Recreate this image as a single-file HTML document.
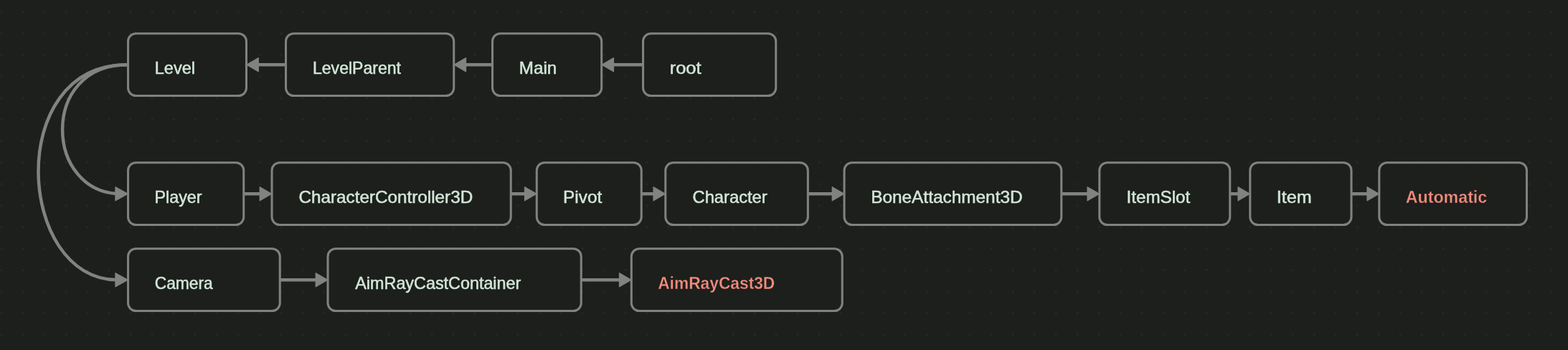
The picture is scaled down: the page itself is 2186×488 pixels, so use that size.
<!DOCTYPE html>
<html><head><meta charset="utf-8"><title>Canvas</title>
<style>
html,body{margin:0;padding:0;background:#1c1f1c;}
body{width:2186px;height:488px;overflow:hidden;}
svg{display:block;will-change:transform;}
text{font-family:"Liberation Sans",sans-serif;font-size:23.4px;fill:#d2e6d7;stroke:#d2e6d7;stroke-width:0.5px;stroke-linejoin:round;}
text.red{fill:#f28c7d;stroke:#1c1f1c;stroke-width:0.3px;font-size:23.5px;font-weight:bold;}
.box{fill:#1c1f1c;stroke:#808280;stroke-width:3.05;}
.edge{fill:none;stroke:#818380;stroke-width:4.5;}
.head{fill:#818380;stroke:#818380;stroke-width:1.4;stroke-linejoin:round;}
</style></head><body>
<svg width="2186" height="488" viewBox="0 0 2186 488">
<defs><pattern id="dots" x="-12.9" y="1.7" width="30" height="30" patternUnits="userSpaceOnUse"><circle cx="15" cy="15" r="1.3" fill="#292b29"/></pattern></defs>
<rect width="2186" height="488" fill="#1c1f1c"/>
<rect width="2186" height="488" fill="url(#dots)"/>
<g>
<path class="edge" d="M398.5 90.25H359"/><path class="head" d="M343.8 90.25L360.2 80.8V99.7Z"/>
<path class="edge" d="M686.5 90.25H648.25"/><path class="head" d="M633.05 90.25L649.45 80.8V99.7Z"/>
<path class="edge" d="M896.5 90.25H854.2"/><path class="head" d="M839.0 90.25L855.4000000000001 80.8V99.7Z"/>
<path class="edge" d="M339.75 270.25H363.5"/><path class="head" d="M378.7 270.25L362.3 260.8V279.7Z"/>
<path class="edge" d="M712.25 270.25H732.75"/><path class="head" d="M747.95 270.25L731.55 260.8V279.7Z"/>
<path class="edge" d="M894.25 270.25H912.25"/><path class="head" d="M927.45 270.25L911.05 260.8V279.7Z"/>
<path class="edge" d="M1126.35 270.25H1161.5"/><path class="head" d="M1176.7 270.25L1160.3 260.8V279.7Z"/>
<path class="edge" d="M1479.75 270.25H1517.25"/><path class="head" d="M1532.45 270.25L1516.05 260.8V279.7Z"/>
<path class="edge" d="M1714.75 270.25H1727.25"/><path class="head" d="M1742.45 270.25L1726.05 260.8V279.7Z"/>
<path class="edge" d="M1884.0 270.25H1907.25"/><path class="head" d="M1922.45 270.25L1906.05 260.8V279.7Z"/>
<path class="edge" d="M390.25 390.25H441.5"/><path class="head" d="M456.7 390.25L440.3 380.8V399.7Z"/>
<path class="edge" d="M810.25 390.25H864.75"/><path class="head" d="M879.95 390.25L863.55 380.8V399.7Z"/>
<path class="edge" d="M178.5 90.25 H177 C55.20 90.25 61.70 270.25 169.10 270.25"/>
<path class="head" d="M178.2 270.25L161.0 260.8V279.7Z"/>
<path class="edge" d="M178.5 90.25 H177 C5.70 90.25 23.50 390.25 163.40 390.25"/>
<path class="head" d="M178.2 390.25L161.0 380.8V399.7Z"/>
</g>
<rect class="box" x="178.53" y="46.73" width="164.95" height="86.85" rx="10.97"/>
<rect class="box" x="398.52" y="46.73" width="234.20" height="86.85" rx="10.97"/>
<rect class="box" x="686.52" y="46.73" width="152.15" height="86.85" rx="10.97"/>
<rect class="box" x="896.52" y="46.73" width="185.20" height="86.85" rx="10.97"/>
<rect class="box" x="178.53" y="226.72" width="161.20" height="86.85" rx="10.97"/>
<rect class="box" x="379.02" y="226.72" width="333.20" height="86.85" rx="10.97"/>
<rect class="box" x="748.27" y="226.72" width="145.95" height="86.85" rx="10.97"/>
<rect class="box" x="927.77" y="226.72" width="198.55" height="86.85" rx="10.97"/>
<rect class="box" x="1177.03" y="226.72" width="302.70" height="86.85" rx="10.97"/>
<rect class="box" x="1532.78" y="226.72" width="181.95" height="86.85" rx="10.97"/>
<rect class="box" x="1742.78" y="226.72" width="141.20" height="86.85" rx="10.97"/>
<rect class="box" x="1922.78" y="226.72" width="205.70" height="86.85" rx="10.97"/>
<rect class="box" x="178.53" y="346.72" width="211.70" height="86.85" rx="10.97"/>
<rect class="box" x="457.02" y="346.72" width="353.20" height="86.85" rx="10.97"/>
<rect class="box" x="880.27" y="346.72" width="293.95" height="86.85" rx="10.97"/>
<text x="215.74" y="102.80" textLength="56.24" lengthAdjust="spacingAndGlyphs">Level</text>
<text x="435.96" y="102.80" textLength="123.07" lengthAdjust="spacingAndGlyphs">LevelParent</text>
<text x="723.82" y="102.80" textLength="52.39" lengthAdjust="spacingAndGlyphs">Main</text>
<text x="933.65" y="102.80" textLength="44.01" lengthAdjust="spacingAndGlyphs">root</text>
<text x="215.53" y="282.80" textLength="65.99" lengthAdjust="spacingAndGlyphs">Player</text>
<text x="416.40" y="282.80" textLength="242.81" lengthAdjust="spacingAndGlyphs">CharacterController3D</text>
<text x="785.11" y="282.80" textLength="54.10" lengthAdjust="spacingAndGlyphs">Pivot</text>
<text x="965.56" y="282.80" textLength="104.15" lengthAdjust="spacingAndGlyphs">Character</text>
<text x="1214.18" y="282.80" textLength="211.41" lengthAdjust="spacingAndGlyphs">BoneAttachment3D</text>
<text x="1570.50" y="282.80" textLength="88.72" lengthAdjust="spacingAndGlyphs">ItemSlot</text>
<text x="1779.89" y="282.80" textLength="48.98" lengthAdjust="spacingAndGlyphs">Item</text>
<text class="red" x="1959.83" y="282.80" textLength="113.37" lengthAdjust="spacingAndGlyphs">Automatic</text>
<text x="215.75" y="402.80" textLength="81.04" lengthAdjust="spacingAndGlyphs">Camera</text>
<text x="495.30" y="402.80" textLength="231.02" lengthAdjust="spacingAndGlyphs">AimRayCastContainer</text>
<text class="red" x="917.20" y="402.80" textLength="163.10" lengthAdjust="spacingAndGlyphs">AimRayCast3D</text>
</svg>
</body></html>
